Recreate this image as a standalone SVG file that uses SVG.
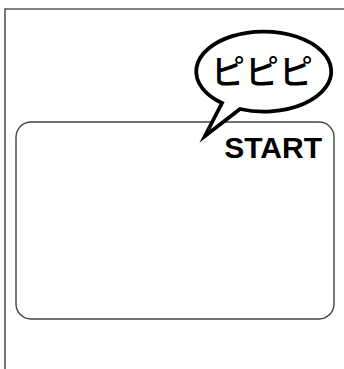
<svg xmlns="http://www.w3.org/2000/svg" width="344" height="369" viewBox="0 0 344 369">
<style>
.frame{fill:none;stroke:#555;stroke-width:1.6}
.panel{fill:#fff;stroke:#444;stroke-width:1.4}
.bubble{fill:#fff;stroke:#000;stroke-width:3.8;stroke-linejoin:miter;stroke-miterlimit:10}
.jp{font-family:"Noto Sans CJK JP","Noto Sans",sans-serif;font-size:34px;font-weight:500;fill:#000}
.lbl{font-family:"Liberation Sans",Arial,sans-serif;font-size:30px;font-weight:bold;fill:#000}
</style>
<rect width="344" height="369" fill="#fff"/>
<g id="frame">
<path class="frame" d="M5,369 V9 H344"/>
</g>
<g id="display">
<rect class="panel" x="16" y="122" width="318" height="197" rx="15" ry="15"/>
<text class="lbl" x="322" y="157.5" text-anchor="end">START</text>
</g>
<g id="speech-bubble">
<path class="bubble" d="M240,109 L205,136 L222,103 A67.5,40 0 1 1 240,109 Z"/>
<text class="jp" x="262" y="84" text-anchor="middle">ピピピ</text>
</g>
<g id="connectors"/>
</svg>
